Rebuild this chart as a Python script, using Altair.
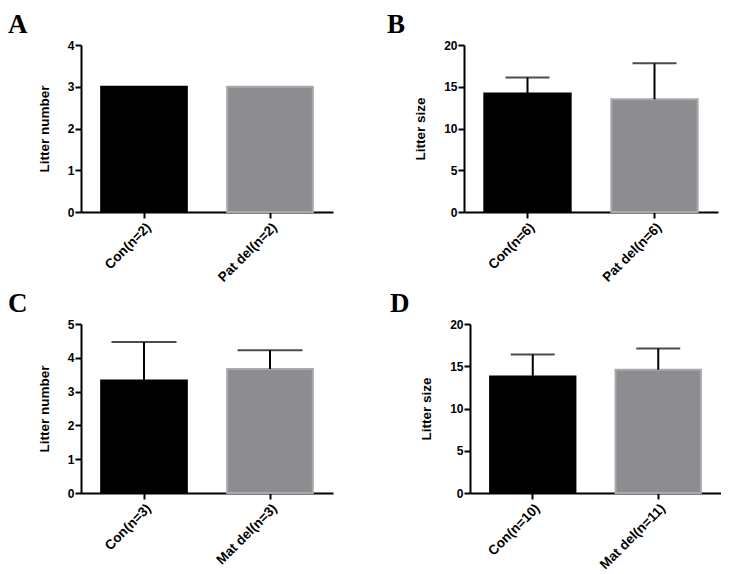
import altair as alt
import pandas as pd

# ---- data ----
a_groups = ["Con(n=2)", "Pat del(n=2)"]
a_mean = [3.0, 3.0]

b_groups = ["Con(n=6)", "Pat del(n=6)"]
b_mean = [14.2, 13.5]
b_upper = [16.1, 17.8]

c_groups = ["Con(n=3)", "Mat del(n=3)"]
c_mean = [3.33, 3.67]
c_upper = [4.47, 4.22]

d_groups = ["Con(n=10)", "Mat del(n=11)"]
d_mean = [13.8, 14.6]
d_upper = [16.4, 17.1]

fill_colors = ["#000000", "#8d8d91"]
edge_colors = ["#000000", "#a9a9ab"]

SANS = "Liberation Sans"
SERIF = "Liberation Serif"


def panel(letter, groups, mean, upper, ymax, ystep, ytitle, w, h, cap, dx):
    df = pd.DataFrame({"group": groups, "mean": mean})
    if upper is not None:
        df["upper"] = upper
    xaxis = alt.Axis(labelAngle=-45, labelAlign="right", labelBaseline="top",
                     labelFontSize=13.5, labelPadding=2, tickSize=6)
    xscale = alt.Scale(paddingInner=0.32, paddingOuter=0.16)
    yaxis = alt.Axis(values=list(range(0, ymax + 1, ystep)), format="d",
                     labelFontSize=12, titleFontSize=13.5, titlePadding=16,
                     tickSize=6, labelPadding=1)
    yscale = alt.Scale(domain=[0, ymax], nice=False)

    def X():
        return alt.X("group:N", sort=groups, title=None, scale=xscale, axis=xaxis)

    def Y(field):
        return alt.Y(field, title=ytitle, scale=yscale, axis=yaxis)

    bars = alt.Chart(df).mark_bar(strokeWidth=2).encode(
        x=X(),
        y=Y("mean:Q"),
        fill=alt.Fill("group:N", scale=alt.Scale(domain=groups, range=fill_colors), legend=None),
        stroke=alt.Stroke("group:N", scale=alt.Scale(domain=groups, range=edge_colors), legend=None),
    )
    layers = [bars]
    if upper is not None:
        rule = alt.Chart(df).mark_rule(color="black", strokeWidth=2).encode(
            x=X(), y=Y("mean:Q"), y2="upper:Q"
        )
        capm = alt.Chart(df).mark_tick(color="black", thickness=2, size=cap).encode(
            x=X(), y=Y("upper:Q")
        )
        layers += [rule, capm]
    return alt.layer(*layers).properties(
        width=w,
        height=h,
        title=alt.TitleParams(letter, anchor="start", frame="group", dx=dx, offset=0,
                              font=SERIF, fontSize=27, fontWeight="bold", color="black"),
    )


pa = panel("A", a_groups, a_mean, None, 4, 1, "Litter number", 252, 167, 0, -73)
pb = panel("B", b_groups, b_mean, b_upper, 20, 5, "Litter size", 254, 167, 44, -77)
pc = panel("C", c_groups, c_mean, c_upper, 5, 1, "Litter number", 252, 169, 65, -73)
pd_ = panel("D", d_groups, d_mean, d_upper, 20, 5, "Litter size", 251, 169, 44, -80)

row1 = alt.hconcat(pa, pb, spacing=54)
row2 = alt.hconcat(pc, pd_, spacing=57)

chart = alt.vconcat(row1, row2, spacing=6).properties(
    padding={"top": 3, "left": 0, "right": 0, "bottom": 0}, background="white"
).configure_view(
    stroke=None
).configure_axis(
    grid=False,
    domainColor="black",
    domainWidth=2,
    tickColor="black",
    tickWidth=2,
    labelColor="black",
    titleColor="black",
    labelFont=SANS,
    titleFont=SANS,
    labelFontWeight="bold",
    titleFontWeight="bold",
)

chart.save("out.html", embed_options={"renderer": "svg", "actions": False})
